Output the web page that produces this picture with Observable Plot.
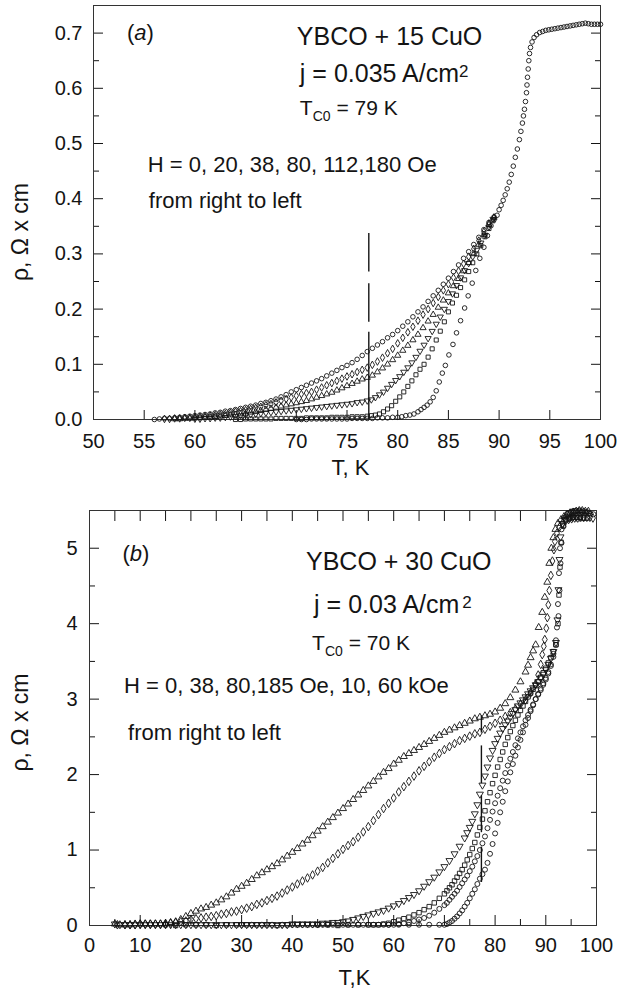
<!DOCTYPE html>
<html>
<head>
<meta charset="utf-8">
<script src="https://cdn.jsdelivr.net/npm/d3@7"></script>
<script src="https://cdn.jsdelivr.net/npm/@observablehq/plot@0.6"></script>
<style>
  html, body { margin: 0; padding: 0; background: #fff; }
  #chart svg { display: block; }
</style>
</head>
<body>
<div id="chart"></div>
<script>
// ---------------- Panel (a): YBCO + 15 CuO ----------------
const a_H0 = [[70,0.000],[70.5,0.000],[71,0.000],[71.5,0.001],[72,0.001],[72.5,0.001],[73,0.001],[73.5,0.001],[74,0.001],[74.5,0.001],[75,0.001],[75.5,0.002],[76,0.002],[76.5,0.002],[77,0.002],[77.5,0.002],[78,0.003],[78.5,0.003],[79,0.003],[79.5,0.004],[80,0.004],[80.4,0.005],[80.8,0.007],[81.2,0.008],[81.6,0.010],[82.0,0.014],[82.3,0.018],[82.6,0.022],[82.9,0.026],[83.2,0.032],[83.5,0.040],[83.8,0.052],[84.1,0.068],[84.4,0.084],[84.7,0.098],[85.05,0.117],[85.45,0.136],[85.8,0.157],[86.2,0.179],[86.6,0.202],[86.95,0.224],[87.35,0.247],[87.7,0.270],[88.1,0.292],[88.5,0.312],[88.85,0.333],[89.2,0.351],[89.5,0.362]];
const a_H20 = [[64,0.000],[64.5,0.000],[65,0.001],[65.5,0.001],[66,0.001],[66.5,0.001],[67,0.001],[67.5,0.001],[68,0.002],[68.5,0.002],[69,0.002],[69.5,0.002],[70,0.002],[70.5,0.002],[71,0.003],[71.5,0.003],[72,0.003],[72.5,0.003],[73,0.003],[73.5,0.004],[74,0.004],[74.5,0.004],[75,0.004],[75.5,0.005],[76,0.005],[76.5,0.005],[77,0.006],[77.4,0.007],[77.8,0.008],[78.2,0.010],[78.6,0.014],[79,0.019],[79.4,0.025],[79.8,0.033],[80.2,0.041],[80.6,0.050],[81,0.060],[81.4,0.070],[81.8,0.081],[82.2,0.091],[82.6,0.100],[83,0.113],[83.4,0.128],[83.8,0.144],[84.2,0.160],[84.6,0.177],[85,0.195],[85.4,0.211],[85.8,0.225],[86.2,0.239],[86.6,0.253],[87,0.268],[87.4,0.284],[87.8,0.300],[88.2,0.315],[88.6,0.331],[89,0.346],[89.4,0.360]];
const a_H38 = [[60,0.001],[60.5,0.001],[61,0.002],[61.5,0.002],[62,0.003],[62.5,0.003],[63,0.004],[63.5,0.005],[64,0.006],[64.5,0.007],[65,0.008],[65.5,0.009],[66,0.010],[66.5,0.011],[67,0.012],[67.5,0.013],[68,0.014],[68.5,0.015],[69,0.016],[69.5,0.017],[70,0.018],[70.5,0.019],[71,0.020],[71.5,0.021],[72,0.022],[72.5,0.023],[73,0.024],[73.5,0.025],[74,0.026],[74.5,0.027],[75,0.028],[75.5,0.029],[76,0.031],[76.5,0.032],[77,0.034],[77.4,0.036],[77.8,0.040],[78.2,0.045],[78.6,0.050],[79,0.057],[79.4,0.064],[79.8,0.071],[80.2,0.078],[80.6,0.086],[81,0.094],[81.4,0.103],[81.8,0.113],[82.2,0.124],[82.6,0.135],[83,0.147],[83.4,0.160],[83.8,0.173],[84.2,0.186],[84.6,0.200],[85,0.214],[85.4,0.228],[85.8,0.243],[86.2,0.257],[86.6,0.270],[87,0.283],[87.4,0.295],[87.8,0.307],[88.2,0.320],[88.6,0.334],[89,0.349],[89.4,0.363]];
const a_H80 = [[58,0.001],[58.5,0.001],[59,0.002],[59.5,0.002],[60,0.003],[60.5,0.003],[61,0.004],[61.5,0.004],[62,0.005],[62.5,0.006],[63,0.007],[63.5,0.008],[64,0.009],[64.5,0.010],[65,0.011],[65.5,0.013],[66,0.014],[66.5,0.016],[67,0.018],[67.5,0.020],[68,0.022],[68.5,0.024],[69,0.026],[69.5,0.028],[70,0.030],[70.5,0.032],[71,0.034],[71.5,0.037],[72,0.040],[72.5,0.043],[73,0.046],[73.5,0.049],[74,0.053],[74.5,0.057],[75,0.061],[75.5,0.065],[76,0.069],[76.5,0.073],[77,0.076],[77.5,0.080],[78,0.086],[78.5,0.093],[79,0.100],[79.5,0.108],[80,0.116],[80.5,0.125],[81,0.134],[81.5,0.144],[82,0.154],[82.5,0.166],[83,0.178],[83.5,0.190],[84,0.203],[84.5,0.216],[85,0.229],[85.5,0.242],[86,0.255],[86.5,0.269],[87,0.284],[87.5,0.300],[88,0.317],[88.5,0.335],[89,0.353],[89.5,0.366]];
const a_H112 = [[57,0.001],[57.5,0.001],[58,0.002],[58.5,0.002],[59,0.003],[59.5,0.003],[60,0.004],[60.5,0.005],[61,0.006],[61.5,0.007],[62,0.008],[62.5,0.009],[63,0.010],[63.5,0.012],[64,0.014],[64.5,0.015],[65,0.017],[65.5,0.019],[66,0.021],[66.5,0.023],[67,0.026],[67.5,0.028],[68,0.031],[68.5,0.034],[69,0.037],[69.5,0.040],[70,0.043],[70.5,0.046],[71,0.048],[71.5,0.050],[72,0.054],[72.5,0.058],[73,0.062],[73.5,0.066],[74,0.070],[74.5,0.074],[75,0.078],[75.5,0.082],[76,0.086],[76.5,0.090],[77,0.094],[77.5,0.099],[78,0.105],[78.5,0.112],[79,0.120],[79.5,0.128],[80,0.138],[80.5,0.148],[81,0.158],[81.5,0.168],[82,0.179],[82.5,0.190],[83,0.200],[83.5,0.211],[84,0.222],[84.5,0.234],[85,0.245],[85.5,0.257],[86,0.269],[86.5,0.282],[87,0.295],[87.5,0.309],[88,0.324],[88.5,0.340],[89,0.355],[89.5,0.366]];
const a_H180 = [[56,0.000],[56.5,0.001],[57,0.002],[57.5,0.002],[58,0.003],[58.5,0.004],[59,0.005],[59.5,0.006],[60,0.007],[60.5,0.008],[61,0.009],[61.5,0.010],[62,0.012],[62.5,0.013],[63,0.015],[63.5,0.016],[64,0.018],[64.5,0.020],[65,0.022],[65.5,0.024],[66,0.026],[66.5,0.029],[67,0.031],[67.5,0.034],[68,0.037],[68.5,0.041],[69,0.045],[69.5,0.050],[70,0.054],[70.5,0.058],[71,0.062],[71.5,0.066],[72,0.070],[72.5,0.074],[73,0.079],[73.5,0.084],[74,0.089],[74.5,0.094],[75,0.098],[75.5,0.103],[76,0.109],[76.5,0.116],[77,0.123],[77.5,0.129],[78,0.135],[78.5,0.141],[79,0.148],[79.5,0.154],[80,0.161],[80.5,0.169],[81,0.177],[81.5,0.186],[82,0.195],[82.5,0.204],[83,0.214],[83.5,0.224],[84,0.234],[84.5,0.245],[85,0.256],[85.5,0.268],[86,0.280],[86.5,0.292],[87,0.304],[87.5,0.317],[88,0.330],[88.5,0.344],[89,0.357],[89.5,0.367]];
// common branch above ~89.8 K where all fields coincide
const a_common = [[89.8,0.370],[90.0,0.380],[90.2,0.388],[90.4,0.397],[90.6,0.407],[90.8,0.418],[91.0,0.430],[91.2,0.444],[91.4,0.459],[91.6,0.475],[91.8,0.490],[92.0,0.507],[92.15,0.522],[92.3,0.537],[92.4,0.550],[92.5,0.562],[92.6,0.576],[92.7,0.592],[92.75,0.606],[92.8,0.620],[92.87,0.635],[92.93,0.650],[93.0,0.663],[93.1,0.674],[93.25,0.684],[93.45,0.692],[93.7,0.697],[94.0,0.701],[94.3,0.703],[94.6,0.705],[94.9,0.706],[95.2,0.707],[95.5,0.708],[95.8,0.709],[96.1,0.710],[96.4,0.711],[96.7,0.712],[97.0,0.713],[97.3,0.714],[97.6,0.715],[97.9,0.716],[98.2,0.717],[98.5,0.718],[98.8,0.717],[99.1,0.716],[99.4,0.716],[99.7,0.716],[100.0,0.716]];
const a_lineT = 77.15;
const a_lineSegments = [[0.337,0.267],[0.246,0.176],[0.158,0.0]];
const a_xTicks = [50,55,60,65,70,75,80,85,90,95,100];
const a_yMajor = [0,0.1,0.2,0.3,0.4,0.5,0.6,0.7];
const a_yMinor = [0.05,0.15,0.25,0.35,0.45,0.55,0.65];

// ---------------- Panel (b): YBCO + 30 CuO ----------------
const b_60k = [[5,0.02],[6,0.01],[7,0.01],[8,0.01],[9,0.02],[10,0.02],[11,0.02],[12,0.02],[13,0.02],[14,0.02],[15,0.03],[16,0.04],[17,0.05],[18,0.08],[19,0.12],[20,0.16],[21,0.19],[22,0.22],[23,0.24],[24,0.27],[25,0.30],[26,0.34],[27,0.38],[28,0.43],[29,0.48],[30,0.52],[31,0.56],[32,0.61],[33,0.66],[34,0.70],[35,0.74],[36,0.78],[37,0.82],[38,0.87],[39,0.92],[40,0.97],[41,1.02],[42,1.08],[43,1.13],[44,1.19],[45,1.25],[46,1.31],[47,1.37],[48,1.43],[49,1.49],[50,1.55],[51,1.61],[52,1.67],[53,1.73],[54,1.79],[55,1.85],[56,1.91],[57,1.97],[58,2.03],[59,2.08],[60,2.14],[61,2.19],[62,2.24],[63,2.28],[64,2.32],[65,2.36],[66,2.40],[67,2.44],[68,2.48],[69,2.52],[70,2.56],[71,2.59],[72,2.62],[73,2.65],[74,2.68],[75,2.71],[76,2.74],[77,2.76],[78,2.78],[79,2.80],[80,2.83],[81,2.88],[82,2.94],[83,3.02],[84,3.12],[85,3.23],[86,3.36],[86.5,3.45],[87,3.55],[87.5,3.64],[88,3.72],[88.6,3.95],[89.3,4.15],[89.8,4.35],[90.3,4.55],[90.7,4.80],[91.1,5.00],[91.5,5.14],[91.9,5.25],[92.4,5.33],[93.0,5.38],[93.6,5.42],[94.2,5.45],[94.8,5.47],[95.4,5.48],[96.0,5.49],[96.6,5.50],[97.2,5.50],[97.8,5.49],[98.4,5.49]];
const b_10k = [[5.5,0.01],[7,0.01],[8,0.01],[9,0.01],[10,0.02],[11,0.02],[12,0.02],[13,0.02],[14,0.02],[15,0.02],[16,0.03],[17,0.04],[18,0.05],[19,0.06],[20,0.08],[21,0.09],[22,0.10],[23,0.11],[24,0.12],[25,0.13],[26,0.15],[27,0.16],[28,0.18],[29,0.19],[30,0.21],[31,0.23],[32,0.25],[33,0.28],[34,0.30],[35,0.33],[36,0.36],[37,0.39],[38,0.43],[39,0.47],[40,0.51],[41,0.55],[42,0.59],[43,0.63],[44,0.67],[45,0.72],[46,0.77],[47,0.83],[48,0.89],[49,0.95],[50,1.01],[51,1.06],[52,1.11],[53,1.17],[54,1.24],[55,1.31],[56,1.39],[57,1.47],[58,1.55],[59,1.62],[60,1.69],[61,1.77],[62,1.84],[63,1.91],[64,1.98],[65,2.05],[66,2.11],[67,2.17],[68,2.23],[69,2.28],[70,2.33],[71,2.37],[72,2.41],[73,2.45],[74,2.48],[75,2.51],[76,2.54],[77,2.56],[78,2.60],[79,2.64],[80,2.68],[81,2.72],[82,2.77],[83,2.82],[84,2.87],[85,2.93],[86,2.99],[87,3.08],[88,3.20],[88.5,3.32],[89,3.46],[89.3,3.59],[89.6,3.70],[89.8,3.79],[90.1,3.94],[90.3,4.08],[90.5,4.25],[90.7,4.44],[91.0,4.64],[91.3,4.83],[91.6,4.98],[91.8,5.09],[92.2,5.20],[92.7,5.28],[93.3,5.33],[93.9,5.36],[94.5,5.38],[95.1,5.39],[95.7,5.40],[96.3,5.40],[96.9,5.41],[97.5,5.41],[98.1,5.41],[98.7,5.41],[99.3,5.40]];
const b_185 = [[5,0.02],[6,0.01],[7,0.01],[8,0.01],[9,0.01],[10,0.01],[11,0.01],[12,0.01],[13,0.01],[14,0.01],[15,0.01],[16,0.01],[17,0.01],[18,0.01],[19,0.01],[20,0.01],[21,0.01],[22,0.01],[23,0.01],[24,0.01],[25,0.01],[26,0.01],[27,0.01],[28,0.01],[29,0.01],[30,0.01],[31,0.01],[32,0.01],[33,0.01],[34,0.01],[35,0.01],[36,0.01],[37,0.01],[38,0.01],[39,0.01],[40,0.02],[41,0.02],[42,0.02],[43,0.02],[44,0.02],[45,0.02],[46,0.03],[47,0.03],[48,0.04],[49,0.04],[50,0.05],[51,0.06],[52,0.08],[53,0.10],[54,0.12],[55,0.14],[56,0.16],[57,0.18],[58,0.20],[59,0.23],[60,0.26],[61,0.29],[62,0.33],[63,0.37],[64,0.41],[65,0.46],[66,0.52],[67,0.58],[68,0.64],[69,0.71],[70,0.78],[71,0.86],[72,0.95],[73,1.05],[74,1.16],[74.5,1.23],[75,1.30],[75.5,1.38],[76,1.48],[76.5,1.60],[77,1.74],[77.5,1.86],[78,1.98],[78.5,2.10],[79,2.22],[79.5,2.32],[80,2.41],[80.5,2.48],[81,2.55],[81.5,2.61],[82,2.66],[82.5,2.71],[83,2.76],[83.5,2.81],[84,2.86],[84.5,2.91],[85,2.95],[85.5,2.99],[86,3.03],[86.5,3.07],[87,3.11],[87.5,3.15],[88,3.19],[88.5,3.23],[89,3.28],[89.5,3.33],[90,3.39],[90.5,3.46],[91,3.54],[91.5,3.63],[92,3.75],[92.3,4.05],[92.5,4.45],[92.7,4.85],[92.9,5.15],[93.3,5.32],[93.9,5.38],[94.6,5.40],[95.3,5.41],[96.0,5.41],[96.7,5.41],[97.4,5.41]];
const b_80 = [[15,0.01],[17,0.00],[19,0.01],[21,0.01],[23,0.01],[25,0.00],[27,0.01],[29,0.01],[31,0.01],[33,0.01],[35,0.01],[37,0.00],[39,0.01],[41,0.01],[43,0.01],[45,0.01],[47,0.01],[49,0.00],[51,0.01],[53,0.01],[55,0.01],[56,0.01],[57,0.01],[58,0.02],[59,0.03],[60,0.05],[61,0.07],[62,0.09],[63,0.11],[64,0.14],[65,0.17],[66,0.21],[67,0.25],[68,0.30],[69,0.36],[70,0.42],[70.5,0.46],[71,0.50],[71.5,0.54],[72,0.59],[72.5,0.64],[73,0.69],[73.5,0.74],[74,0.80],[74.5,0.87],[75,0.94],[75.5,1.02],[76,1.10],[76.5,1.20],[77,1.30],[77.5,1.41],[78,1.52],[78.5,1.64],[79,1.76],[79.5,1.88],[80,1.99],[80.5,2.10],[81,2.20],[81.5,2.30],[82,2.40],[82.5,2.49],[83,2.57],[83.5,2.65],[84,2.72],[84.5,2.79],[85,2.85],[85.5,2.91],[86,2.97],[86.5,3.03],[87,3.08],[87.5,3.13],[88,3.18],[88.5,3.23],[89,3.29],[89.5,3.35],[90,3.41],[90.5,3.48],[91,3.55],[91.5,3.63],[92,3.72],[92.4,4.00],[92.6,4.38],[92.8,4.75],[93.0,5.08],[93.4,5.30],[94.0,5.38],[94.7,5.40],[95.4,5.41],[96.1,5.41],[96.8,5.41],[97.5,5.40],[98.2,5.40]];
const b_38 = [[30,0.01],[32,0.01],[34,0.01],[36,0.01],[38,0.01],[40,0.01],[42,0.01],[44,0.01],[46,0.01],[48,0.01],[50,0.01],[52,0.01],[54,0.01],[56,0.01],[58,0.01],[59,0.01],[60,0.01],[61,0.02],[62,0.03],[63,0.04],[64,0.06],[65,0.08],[66,0.10],[67,0.13],[68,0.17],[69,0.22],[70,0.27],[70.5,0.30],[71,0.34],[71.5,0.38],[72,0.42],[72.5,0.46],[73,0.51],[73.5,0.56],[74,0.61],[74.5,0.66],[75,0.72],[75.5,0.78],[76,0.85],[76.5,0.92],[77,1.00],[77.5,1.09],[78,1.18],[78.5,1.29],[79,1.40],[79.5,1.51],[80,1.62],[80.5,1.72],[81,1.82],[81.5,1.92],[82,2.02],[82.5,2.12],[83,2.21],[83.5,2.30],[84,2.39],[84.5,2.48],[85,2.56],[85.5,2.64],[86,2.72],[86.5,2.79],[87,2.86],[87.5,2.93],[88,3.00],[88.5,3.06],[89,3.12],[89.5,3.19],[90,3.26],[90.5,3.34],[91,3.44],[91.5,3.56],[92,3.72],[92.2,3.95],[92.4,4.26],[92.6,4.67],[92.8,5.00],[93.1,5.25],[93.6,5.40],[94.3,5.46],[95.0,5.48],[95.7,5.49],[96.4,5.49],[97.1,5.48],[97.8,5.47],[98.5,5.46]];
const b_0 = [[45,0.01],[47,0.01],[49,0.01],[51,0.01],[53,0.01],[55,0.01],[57,0.01],[59,0.01],[61,0.01],[63,0.01],[65,0.01],[67,0.01],[69,0.01],[70,0.01],[70.5,0.02],[71,0.04],[71.5,0.06],[72,0.09],[72.5,0.12],[73,0.16],[73.5,0.20],[74,0.25],[74.5,0.30],[75,0.36],[75.5,0.42],[76,0.48],[76.5,0.55],[77,0.62],[77.5,0.68],[78,0.74],[78.5,0.83],[79,0.95],[79.5,1.08],[80,1.22],[80.5,1.36],[81,1.50],[81.5,1.64],[82,1.78],[82.5,1.91],[83,2.03],[83.5,2.14],[84,2.25],[84.5,2.36],[85,2.46],[85.5,2.56],[86,2.66],[86.5,2.75],[87,2.84],[87.5,2.92],[88,3.00],[88.5,3.07],[89,3.14],[89.5,3.21],[90,3.28],[90.5,3.36],[91,3.46],[91.5,3.60],[92,3.78],[92.5,4.10],[92.7,4.44],[92.9,4.80],[93.1,5.07],[93.5,5.29],[94.0,5.42],[94.6,5.47],[95.3,5.49],[96.0,5.50],[96.7,5.50],[97.4,5.49],[98.1,5.48],[98.8,5.46],[99.4,5.45]];
const b_lineT = 77.3;
const b_lineSegments = [[2.78,2.55],[2.38,1.88],[1.72,1.23],[1.04,0.57]];
const b_xMajor = [0,10,20,30,40,50,60,70,80,90,100];
const b_xMinor = [5,15,25,35,45,55,65,75,85,95];
const b_xTop = [5,10,15,20,25,30,35,40,45,50,55,60,65,70,75,80,85,90,95];
const b_yMajor = [0,1,2,3,4,5];
const b_yMinor = [0.5,1.5,2.5,3.5,4.5];

// ---------------- drawing ----------------
const INK = "#141414";
const FONT = "'Liberation Sans', Arial, Helvetica, sans-serif";
const rows = arr => arr.map(([T, rho]) => ({T, rho}));
const dots = (arr, symbol, r, rotate = 0) =>
  Plot.dot(rows(arr), {x: "T", y: "rho", symbol, rotate, r, stroke: INK, strokeWidth: 0.9, fill: "none"});

function addText(svg, px, py, parts, size, opts = {}) {
  const t = d3.select(svg).append("text")
    .attr("transform", `translate(${px},${py}) rotate(${opts.rotate || 0})`)
    .attr("text-anchor", opts.anchor || "start")
    .attr("font-family", FONT)
    .attr("font-size", size)
    .attr("fill", INK);
  for (const p of parts) {
    const s = t.append("tspan").text(p.t);
    if (p.size) s.attr("font-size", p.size);
    if (p.dy) s.attr("dy", p.dy);
    if (p.dx) s.attr("dx", p.dx);
    if (p.italic) s.attr("font-style", "italic");
  }
}

const style = {fontFamily: FONT, fontSize: "20px", color: INK, background: "white", overflow: "visible"};

// Panel (a)
const plotA = Plot.plot({
  width: 619, height: 480,
  marginLeft: 93, marginRight: 19, marginTop: 5, marginBottom: 61,
  x: {domain: [50, 100]},
  y: {domain: [0, 0.75]},
  style,
  marks: [
    Plot.axisY(a_yMajor, {anchor: "left", tickSize: -10, tickPadding: 21, tickFormat: d => d.toFixed(1), label: null, color: INK}),
    Plot.axisY(a_yMinor, {anchor: "left", tickSize: -6, tickFormat: () => "", label: null, color: INK}),
    Plot.axisY(a_yMajor, {anchor: "right", tickSize: -10, tickFormat: () => "", label: null, color: INK}),
    Plot.axisY(a_yMinor, {anchor: "right", tickSize: -6, tickFormat: () => "", label: null, color: INK}),
    Plot.axisX(a_xTicks, {anchor: "bottom", tickSize: -9, tickPadding: 23, tickFormat: d => String(d), label: null, color: INK}),
    Plot.frame({stroke: "#333", strokeWidth: 1}),
    Plot.ruleX(a_lineSegments, {x: () => a_lineT, y1: d => d[0], y2: d => d[1], stroke: INK, strokeWidth: 1.4}),
    dots(a_H180, "circle", 2.3),
    dots(a_H112, "diamond", 2.3),
    dots(a_H80, "triangle", 2.3),
    dots(a_H38, "triangle", 2.3, 180),
    dots(a_H20, "square", 2.3),
    dots(a_H0, "circle", 2.3),
    dots(a_common, "circle", 2.3)
  ]
});

// Panel (b)
const plotB = Plot.plot({
  width: 619, height: 512,
  marginLeft: 89, marginRight: 23, marginTop: 30, marginBottom: 67,
  x: {domain: [0, 100]},
  y: {domain: [0, 5.5]},
  style,
  marks: [
    Plot.axisY(b_yMajor, {anchor: "left", tickSize: -10, tickPadding: 22, tickFormat: d => String(d), label: null, color: INK}),
    Plot.axisY(b_yMinor, {anchor: "left", tickSize: -6, tickFormat: () => "", label: null, color: INK}),
    Plot.axisY(b_yMajor, {anchor: "right", tickSize: -10, tickFormat: () => "", label: null, color: INK}),
    Plot.axisY(b_yMinor, {anchor: "right", tickSize: -6, tickFormat: () => "", label: null, color: INK}),
    Plot.axisX(b_xMajor, {anchor: "bottom", tickSize: -10, tickPadding: 22, tickFormat: d => String(d), label: null, color: INK}),
    Plot.axisX(b_xMinor, {anchor: "bottom", tickSize: -6, tickFormat: () => "", label: null, color: INK}),
    Plot.axisX(b_xTop, {anchor: "top", tickSize: -10, tickFormat: () => "", label: null, color: INK}),
    Plot.frame({stroke: "#333", strokeWidth: 1}),
    Plot.ruleX(b_lineSegments, {x: () => b_lineT, y1: d => d[0], y2: d => d[1], stroke: INK, strokeWidth: 1.4}),
    dots(b_60k, "triangle", 2.6),
    dots(b_10k, "diamond", 2.6),
    dots(b_185, "triangle", 2.6, 180),
    dots(b_80, "square", 2.5),
    dots(b_38, "circle", 2.5),
    dots(b_0, "circle", 2.5)
  ]
});

// annotations placed through each plot's own scales
{
  const sx = v => plotA.scale("x").apply(v), sy = v => plotA.scale("y").apply(v);
  addText(plotA, sx(53.35), sy(0.686), [{t: "("}, {t: "a", italic: true}, {t: ")"}], 22);
  addText(plotA, sx(70.1), sy(0.677), [{t: "YBCO + 15 CuO"}], 25);
  addText(plotA, sx(70.4), sy(0.610), [{t: "j = 0.035 A/cm"}, {t: "2", size: 17, dy: -5}], 25);
  addText(plotA, sx(70.4), sy(0.550), [{t: "T"}, {t: "C0", size: 14, dy: 6}, {t: " = 79 K", dy: -6}], 21);
  addText(plotA, sx(55.4), sy(0.447), [{t: "H = 0, 20, 38, 80, 112,180 Oe"}], 22);
  addText(plotA, sx(55.5), sy(0.382), [{t: "from right to left"}], 22);
  addText(plotA, 28, (sy(0) + sy(0.75)) / 2 + 20, [{t: "ρ, Ω x cm"}], 23, {anchor: "middle", rotate: -90});
  addText(plotA, (sx(50) + sx(100)) / 2 + 4, 475, [{t: "T, K"}], 22, {anchor: "middle"});
}
{
  const sx = v => plotB.scale("x").apply(v), sy = v => plotB.scale("y").apply(v);
  addText(plotB, sx(6.6), sy(4.83), [{t: "("}, {t: "b", italic: true}, {t: ")"}], 22);
  addText(plotB, sx(42.8), sy(4.70), [{t: "YBCO + 30 CuO"}], 25);
  addText(plotB, sx(44.4), sy(4.13), [{t: "j = 0.03 A/cm"}, {t: "2", size: 17, dy: -5, dx: 3}], 25);
  addText(plotB, sx(44.0), sy(3.64), [{t: "T"}, {t: "C0", size: 14, dy: 6}, {t: " = 70 K", dy: -6}], 21);
  addText(plotB, sx(6.9), sy(3.08), [{t: "H = 0, 38, 80,185 Oe, 10, 60 kOe"}], 22);
  addText(plotB, sx(7.7), sy(2.45), [{t: "from right to left"}], 22);
  addText(plotB, 28, (sy(0) + sy(5.5)) / 2 + 5, [{t: "ρ, Ω x cm"}], 23, {anchor: "middle", rotate: -90});
  addText(plotB, (sx(0) + sx(100)) / 2 + 12, 505, [{t: "T,K"}], 22, {anchor: "middle"});
}

document.getElementById("chart").append(plotA, plotB);
</script>
</body>
</html>
